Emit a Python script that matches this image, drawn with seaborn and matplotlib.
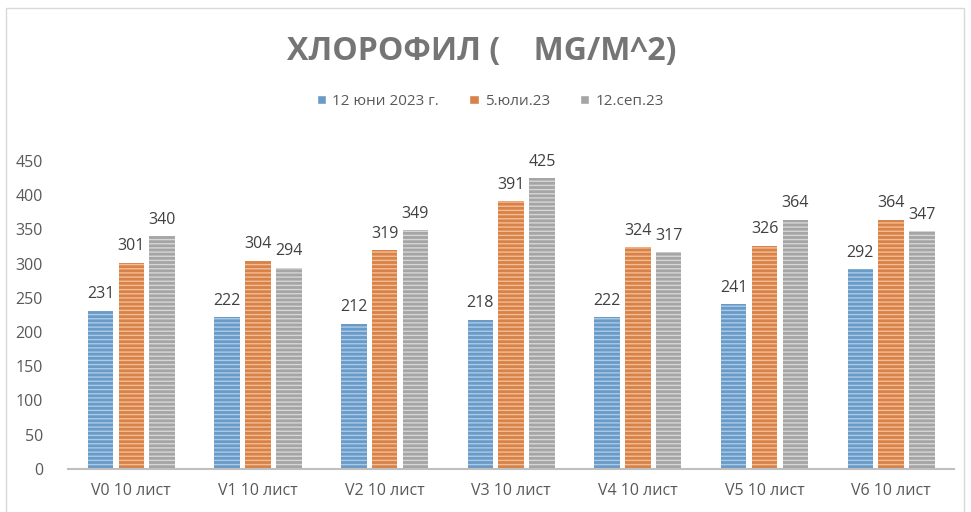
import pandas as pd
import seaborn as sns
import matplotlib.pyplot as plt
from matplotlib.patches import Rectangle

# Chlorophyll values per variant and sampling date
categories = ['V0 10 лист', 'V1 10 лист', 'V2 10 лист', 'V3 10 лист',
              'V4 10 лист', 'V5 10 лист', 'V6 10 лист']
series_names = ['12 юни 2023 г.', '5.юли.23', '12.сеп.23']
june = [231, 222, 212, 218, 222, 241, 292]
july = [301, 304, 319, 391, 324, 326, 364]
sept = [340, 294, 349, 425, 317, 364, 347]
yticks = [0, 50, 100, 150, 200, 250, 300, 350, 400, 450]

colors = ['#5B9BD5', '#ED7D31', '#A5A5A5']
stripe_colors = ['#A9CBEA', '#F6BC94', '#D6D6D6']

df = pd.DataFrame({
    'cat': categories * 3,
    'series': [series_names[0]] * 7 + [series_names[1]] * 7 + [series_names[2]] * 7,
    'value': june + july + sept,
})

sns.set_style('white')
plt.rcParams['font.family'] = ['Open Sans', 'DejaVu Sans']
plt.rcParams['hatch.linewidth'] = 1.0

fig = plt.figure(figsize=(9.71, 5.12), dpi=100)
ax = fig.add_axes([0.07, 0.084, 0.913, 0.602])

sns.barplot(data=df, x='cat', y='value', hue='series', palette=colors,
            width=0.73, gap=0.17, ax=ax, legend=True)

# horizontal stripes on the bars
for i, cont in enumerate(ax.containers):
    for p in cont:
        p.set_hatch('----')
        p.set_edgecolor(stripe_colors[i])
        p.set_linewidth(0)
    ax.bar_label(cont, padding=6, fontsize=11.5, color='#404040')

ax.set_ylim(0, 450)
ax.set_yticks(yticks)
ax.set_xlabel('')
ax.set_ylabel('')
ax.tick_params(axis='both', length=0, labelsize=11.5, colors='#595959', pad=10)
ax.tick_params(axis='y', pad=18)
for s in ['top', 'right', 'left']:
    ax.spines[s].set_visible(False)
ax.spines['bottom'].set_color('#BFBFBF')
ax.spines['bottom'].set_linewidth(1.5)

handles, labels = ax.get_legend_handles_labels()
ax.legend_.remove()
fig.legend(handles, labels, loc='center', bbox_to_anchor=(0.505, 0.802), ncol=3,
           frameon=False, fontsize=11, handlelength=0.6, handleheight=0.6,
           columnspacing=2.0, handletextpad=0.4, labelcolor='#595959')

fig.text(0.496, 0.9, 'ХЛОРОФИЛ (    MG/M^2)', ha='center', va='center',
         fontsize=23, fontweight='bold', color='#757575')

# chart frame
fig.patches.append(Rectangle((0.006, -0.01), 0.987, 0.995, transform=fig.transFigure,
                             fill=False, edgecolor='#D9D9D9', linewidth=1))

fig.savefig('out.png', dpi=100)
